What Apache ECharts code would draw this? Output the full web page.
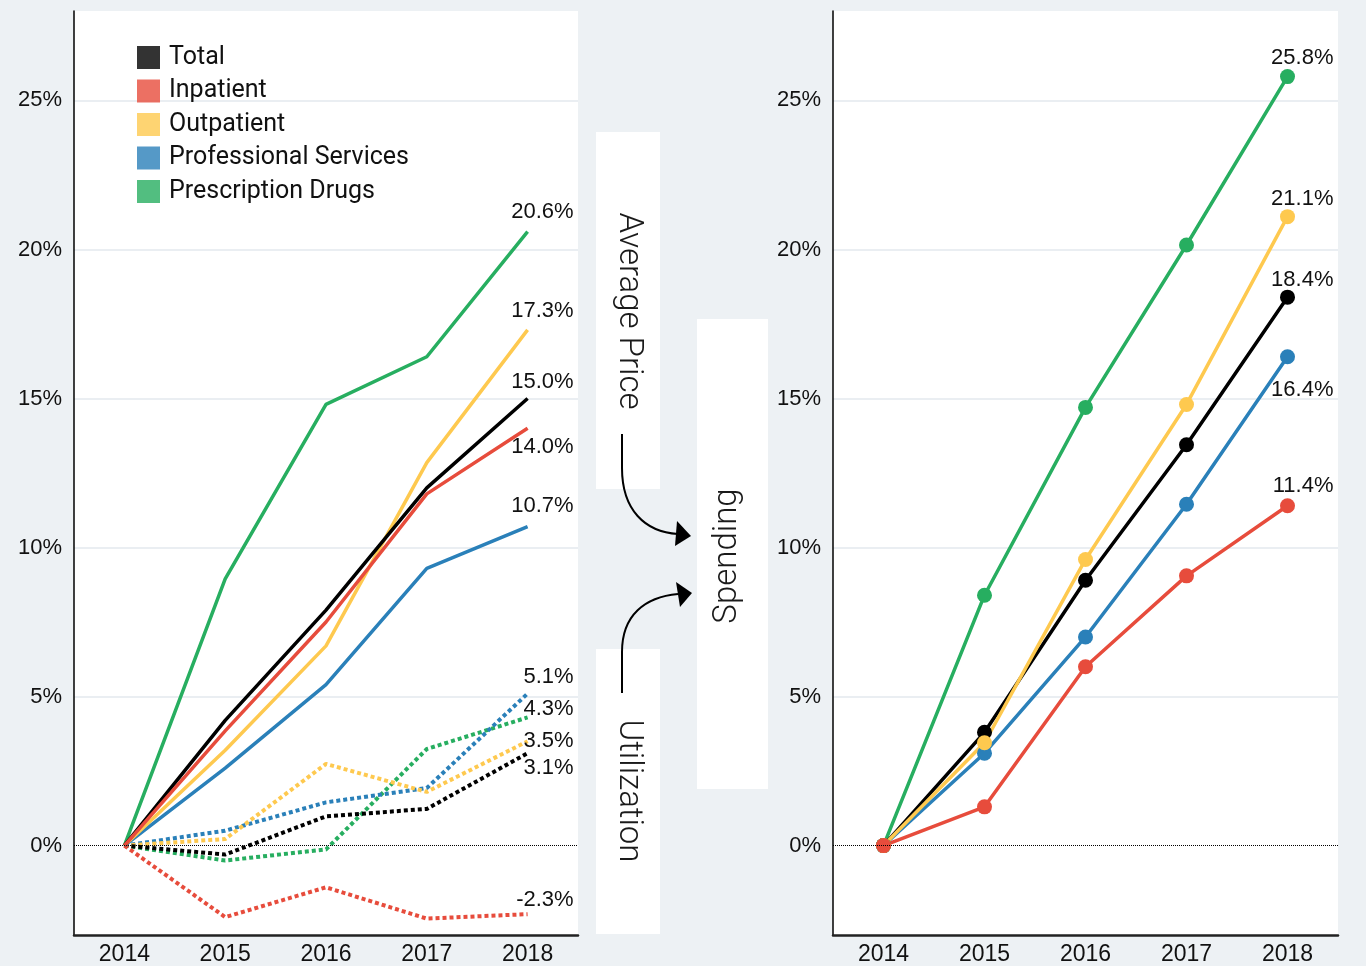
<!DOCTYPE html>
<html>
<head>
<meta charset="utf-8">
<title>Spending growth</title>
<script src="https://cdn.jsdelivr.net/npm/echarts@6.0.0/dist/echarts.min.js"></script>
<style>
  body { margin: 0; padding: 0; background: #edf1f4; }
  #chart { width: 1366px; height: 966px; }
</style>
</head>
<body>
<div id="chart"></div>
<script>
// data (percent change since 2014)
var years = ['2014', '2015', '2016', '2017', '2018'];
var categories = ['Total', 'Inpatient', 'Outpatient', 'Professional Services', 'Prescription Drugs'];
var yTicks = [0, 5, 10, 15, 20, 25];

// average price (solid, left)
var priceTotal        = [0, 4.2, 7.9, 12.0, 15.0];
var priceInpatient    = [0, 3.85, 7.5, 11.8, 14.0];
var priceOutpatient   = [0, 3.2, 6.7, 12.85, 17.3];
var priceProfessional = [0, 2.6, 5.4, 9.3, 10.7];
var priceDrugs        = [0, 8.95, 14.8, 16.4, 20.6];

// utilization (dotted, left)
var utilTotal        = [0, -0.3, 0.98, 1.23, 3.1];
var utilInpatient    = [0, -2.4, -1.4, -2.45, -2.3];
var utilOutpatient   = [0, 0.22, 2.74, 1.8, 3.5];
var utilProfessional = [0, 0.5, 1.45, 1.93, 5.1];
var utilDrugs        = [0, -0.5, -0.13, 3.24, 4.3];

// spending (right)
var spendTotal        = [0, 3.8, 8.9, 13.45, 18.4];
var spendInpatient    = [0, 1.3, 6.0, 9.05, 11.4];
var spendOutpatient   = [0, 3.45, 9.6, 14.8, 21.1];
var spendProfessional = [0, 3.1, 7.0, 11.45, 16.4];
var spendDrugs        = [0, 8.4, 14.7, 20.15, 25.8];

var colors = {
  'Total': '#000000',
  'Inpatient': '#e74c3c',
  'Outpatient': '#fec94f',
  'Professional Services': '#2a80b9',
  'Prescription Drugs': '#27ae60'
};

var numFont = 'Liberation Sans';

// end label: vertical shift of label centre from the last point
function withEndLabel(arr, dy, symSize) {
  var half = symSize / 2;
  return arr.map(function (v, i) {
    if (i !== arr.length - 1) return v;
    return {
      value: v,
      label: {
        show: true,
        position: [46 + half, dy + half],
        align: 'right',
        verticalAlign: 'middle',
        color: '#111',
        fontSize: 22,
        fontFamily: numFont,
        formatter: function (p) { return p.value.toFixed(1) + '%'; }
      }
    };
  });
}

function leftSeries(name, arr, dotted, dy) {
  return {
    name: name,
    type: 'line',
    xAxisIndex: 0,
    yAxisIndex: 0,
    data: withEndLabel(arr, dy, 2),
    symbol: 'circle',
    symbolSize: 2,
    showSymbol: true,
    itemStyle: { color: 'rgba(0,0,0,0)' },
    lineStyle: {
      color: colors[name],
      width: dotted ? 4 : 3.5,
      type: dotted ? [4, 3] : 'solid',
      cap: 'butt'
    },
    z: dotted ? 2 : 3
  };
}

function rightSeries(name, arr, dy) {
  return {
    name: name,
    type: 'line',
    xAxisIndex: 1,
    yAxisIndex: 1,
    data: withEndLabel(arr, dy, 15),
    symbol: 'circle',
    symbolSize: 15,
    itemStyle: { color: colors[name] },
    lineStyle: { color: colors[name], width: 3.5 }
  };
}

function zeroLine() {
  return {
    silent: true,
    symbol: 'none',
    label: { show: false },
    lineStyle: { color: '#000', type: 'dotted', width: 1 },
    data: [{ yAxis: 0 }]
  };
}

function xAxisFor(gridIndex) {
  return {
    type: 'category',
    gridIndex: gridIndex,
    data: years,
    boundaryGap: true,
    axisLine: { onZero: false, lineStyle: { color: '#222', width: 2.5 } },
    axisTick: { show: false },
    axisLabel: { fontSize: 23, fontFamily: numFont, color: '#111', margin: 8 },
    splitLine: { show: false }
  };
}

function yAxisFor(gridIndex) {
  return {
    type: 'value',
    gridIndex: gridIndex,
    min: -3,
    max: 28,
    axisLine: { show: true, lineStyle: { color: '#000', width: 1.5 } },
    axisTick: { show: false, customValues: [5, 10, 15, 20, 25] },
    axisLabel: {
      customValues: yTicks,
      formatter: function (v) { return v + '%'; },
      fontSize: 22, fontFamily: numFont, color: '#111', margin: 12
    },
    splitLine: { show: true, lineStyle: { color: '#e3e8ee', width: 1.5 } }
  };
}

var series = [
  leftSeries('Prescription Drugs', utilDrugs, true, -8),
  leftSeries('Professional Services', utilProfessional, true, -17),
  leftSeries('Outpatient', utilOutpatient, true, 0),
  leftSeries('Total', utilTotal, true, 15),
  leftSeries('Inpatient', utilInpatient, true, -14),
  leftSeries('Prescription Drugs', priceDrugs, false, -20),
  leftSeries('Professional Services', priceProfessional, false, -21),
  leftSeries('Outpatient', priceOutpatient, false, -19),
  leftSeries('Total', priceTotal, false, -17),
  leftSeries('Inpatient', priceInpatient, false, 19),
  rightSeries('Prescription Drugs', spendDrugs, -19),
  rightSeries('Professional Services', spendProfessional, 33),
  rightSeries('Total', spendTotal, -17),
  rightSeries('Outpatient', spendOutpatient, -18),
  rightSeries('Inpatient', spendInpatient, -20)
];
series[4].markLine = zeroLine();
series[14].markLine = zeroLine();

var textStyleMid = { fontSize: 33, fontFamily: 'Roboto', fontWeight: 300, fill: '#1a1a1a', align: 'center', verticalAlign: 'middle' };

var chart = echarts.init(document.getElementById('chart'));
chart.setOption({
  animation: false,
  backgroundColor: '#edf1f4',
  grid: [
    { left: 74, top: 11, width: 504, height: 924, show: true, backgroundColor: '#fff', borderWidth: 0 },
    { left: 833, top: 11, width: 505, height: 924, show: true, backgroundColor: '#fff', borderWidth: 0 }
  ],
  xAxis: [xAxisFor(0), xAxisFor(1)],
  yAxis: [yAxisFor(0), yAxisFor(1)],
  legend: {
    left: 132,
    top: 40,
    orient: 'vertical',
    icon: 'rect',
    itemWidth: 23,
    itemHeight: 23,
    itemGap: 8.5,
    selectedMode: false,
    textStyle: { fontSize: 25, fontFamily: 'Roboto', color: '#111', padding: [0, 0, 0, 4] },
    data: categories.map(function (n) {
      return { name: n, itemStyle: { color: colors[n], opacity: 0.8 } };
    })
  },
  graphic: [
    { type: 'rect', shape: { x: 596, y: 132, width: 64, height: 357 }, style: { fill: '#fff' } },
    { type: 'rect', shape: { x: 697, y: 319, width: 71, height: 470 }, style: { fill: '#fff' } },
    { type: 'rect', shape: { x: 596, y: 649, width: 64, height: 285 }, style: { fill: '#fff' } },
    { type: 'text', x: 628, y: 311, rotation: -Math.PI / 2, style: Object.assign({ text: 'Average Price' }, textStyleMid) },
    { type: 'text', x: 728, y: 556, rotation: Math.PI / 2, style: Object.assign({ text: 'Spending' }, textStyleMid) },
    { type: 'text', x: 628, y: 791, rotation: -Math.PI / 2, style: Object.assign({ text: 'Utilization' }, textStyleMid) },
    { type: 'line', shape: { x1: 622, y1: 434, x2: 622, y2: 468 }, style: { stroke: '#000', lineWidth: 2 } },
    { type: 'bezierCurve', shape: { x1: 622, y1: 468, cpx1: 622, cpy1: 510, cpx2: 645, cpy2: 532, x2: 678, y2: 534 }, style: { stroke: '#000', lineWidth: 2, fill: null } },
    { type: 'polygon', shape: { points: [[691, 536], [677, 521], [675, 546]] }, style: { fill: '#000' } },
    { type: 'line', shape: { x1: 622, y1: 693, x2: 622, y2: 652 }, style: { stroke: '#000', lineWidth: 2 } },
    { type: 'bezierCurve', shape: { x1: 622, y1: 652, cpx1: 622, cpy1: 615, cpx2: 645, cpy2: 597, x2: 678, y2: 594 }, style: { stroke: '#000', lineWidth: 2, fill: null } },
    { type: 'polygon', shape: { points: [[692, 593], [676, 582], [680, 607]] }, style: { fill: '#000' } }
  ],
  series: series
});
</script>
</body>
</html>
